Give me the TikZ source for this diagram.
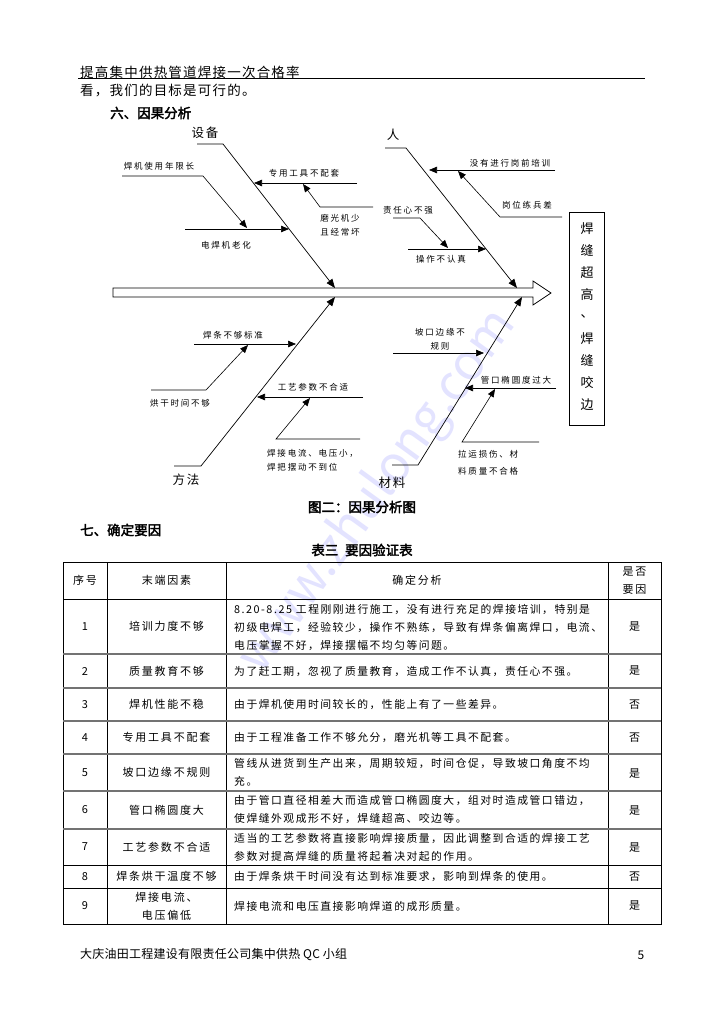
\documentclass[tikz,border=0pt]{standalone}
\usepackage{fontspec}
\setmainfont{Noto Sans CJK SC}[AutoFakeBold=2.5]
\usepackage{tikz}
\usetikzlibrary{arrows.meta,positioning,calc}

\tikzset{
  bone/.style={line width=0.7pt, -{Triangle[length=9pt,width=7pt]}},
  twig/.style={line width=0.6pt, -{Triangle[length=8pt,width=6.5pt]}},
  cause/.style={inner sep=0pt, font={\fontsize{8.5}{14}\selectfont\addfontfeature{LetterSpace=21}}},
  side/.style={inner sep=0pt, font={\fontsize{12.5}{14}\selectfont\addfontfeature{LetterSpace=14}}},
  cell/.style={inner sep=0pt, font={\fontsize{11}{18}\selectfont\addfontfeature{LetterSpace=16}}},
  para/.style={inner sep=0pt, anchor=west, align=left, font={\fontsize{10.8}{18}\selectfont\addfontfeature{LetterSpace=14}}},
  line/.style={inner sep=0pt, anchor=west, font={\fontsize{13.5}{16}\selectfont\addfontfeature{LetterSpace=9}}},
  ttl/.style={inner sep=0pt, font={\fontsize{13.5}{16}\selectfont\bfseries}},
  rowsep/.style={draw=black!55, line width=1.4pt},
}

\begin{document}
\begin{tikzpicture}[x=1pt, y=-1pt]
    \useasboundingbox (0,0) rectangle (725,1024);
    \fill[white] (0,0) rectangle (725,1024);

    % Watermark
    \node[inner sep=0pt, rotate=54, text=blue!11, font={\fontsize{50}{50}\selectfont}] (wm) at (378,492) {www.zhulong.com};

    % Page header
    \node[line] (head) at (80,72) {提高集中供热管道焊接一次合格率};
    \coordinate (hlA) at (78,78);
    \coordinate (hlB) at (645,78);
    \draw[line width=0.6pt] (hlA) -- (hlB);
    \node[line] (prev) at (80,91) {看，我们的目标是可行的。};
    \node[ttl, anchor=west] (sec6) at (110,113) {六、因果分析};

    % Spine with hollow head
    \draw[line width=0.8pt, fill=white] (113,288) -- (533,288) -- (533,281) -- (551,293) -- (533,305) -- (533,297) -- (113,297) -- cycle;

    % Effect box
    \node[draw, line width=0.8pt, minimum width=35pt, minimum height=213pt, inner sep=0pt] (effect) at (587,318.5) {};
    \foreach \c [count=\i from 0] in {焊,缝,超,高,、,焊,缝,咬,边}
        \node[inner sep=0pt, font={\fontsize{13}{14}\selectfont}] (eff\i) at (587,229+21.9*\i) {\c};

    % Equipment bone
    \coordinate (eqA) at (197,144);
    \coordinate (eqB) at (223,144);
    \coordinate (eqT) at (335,288);
    \node[side] (eqL) at (205,133) {设备};
    \draw[bone] (eqA) -- (eqB) -- (eqT);

    \coordinate (aA) at (122,176);
    \coordinate (aB) at (203,176);
    \coordinate (aT) at (247,228);
    \node[cause] (aL) at (159,166) {焊机使用年限长};
    \draw[twig] (aA) -- (aB) -- (aT);

    \coordinate (bA) at (185,229);
    \coordinate (bT) at (289,229);
    \node[cause] (bL) at (226,245) {电焊机老化};
    \draw[twig] (bA) -- (bT);

    \coordinate (cA) at (357,183);
    \coordinate (cT) at (254,183);
    \node[cause] (cL) at (304,173) {专用工具不配套};
    \draw[twig] (cA) -- (cT);

    \coordinate (dA) at (373,207);
    \coordinate (dB) at (320,207);
    \coordinate (dT) at (303,184);
    \node[cause, align=center] (dL) at (340,225) {磨光机少\\且经常坏};
    \draw[twig] (dA) -- (dB) -- (dT);

    % Man bone
    \coordinate (mnA) at (385,148);
    \coordinate (mnB) at (406,148);
    \coordinate (mnT) at (517,288);
    \node[side] (mnL) at (393,135) {人};
    \draw[bone] (mnA) -- (mnB) -- (mnT);

    \coordinate (eA) at (555,170);
    \coordinate (eT) at (429,170);
    \node[cause] (eL) at (510,163) {没有进行岗前培训};
    \draw[twig] (eA) -- (eT);

    \coordinate (fA) at (562,217);
    \coordinate (fB) at (500,217);
    \coordinate (fT) at (458,171);
    \node[cause] (fL) at (527,205) {岗位练兵差};
    \draw[twig] (fA) -- (fB) -- (fT);

    \coordinate (gA) at (393,218);
    \coordinate (gB) at (420,218);
    \coordinate (gT) at (448,248);
    \node[cause] (gL) at (408,210) {责任心不强};
    \draw[twig] (gA) -- (gB) -- (gT);

    \coordinate (hA) at (408,249);
    \coordinate (hT) at (486,249);
    \node[cause] (hL) at (441,259) {操作不认真};
    \draw[twig] (hA) -- (hT);

    % Method bone
    \coordinate (mtA) at (174,466);
    \coordinate (mtB) at (201,466);
    \coordinate (mtT) at (335,297);
    \node[side] (mtL) at (186,480) {方法};
    \draw[bone] (mtA) -- (mtB) -- (mtT);

    \coordinate (iA) at (194,344);
    \coordinate (iT) at (296,344);
    \node[cause] (iL) at (233,335) {焊条不够标准};
    \draw[twig] (iA) -- (iT);

    \coordinate (jA) at (151,390);
    \coordinate (jB) at (206,390);
    \coordinate (jT) at (248,345);
    \node[cause] (jL) at (180,403) {烘干时间不够};
    \draw[twig] (jA) -- (jB) -- (jT);

    \coordinate (kA) at (363,397);
    \coordinate (kT) at (257,397);
    \node[cause] (kL) at (313,387) {工艺参数不合适};
    \draw[twig] (kA) -- (kT);

    \coordinate (lA) at (360,439);
    \coordinate (lB) at (276,439);
    \coordinate (lT) at (310,398);
    \node[cause, anchor=west, align=left] (lL) at (267,460) {焊接电流、电压小，\\焊把摆动不到位};
    \draw[twig] (lA) -- (lB) -- (lT);

    % Material bone
    \coordinate (maA) at (392,465);
    \coordinate (maB) at (418,465);
    \coordinate (maT) at (522,297);
    \node[side] (maL) at (392,483) {材料};
    \draw[bone] (maA) -- (maB) -- (maT);

    \coordinate (nA) at (393,353);
    \coordinate (nT) at (484,353);
    \node[cause, align=center] (nL) at (440,339) {坡口边缘不\\规则};
    \draw[twig] (nA) -- (nT);

    \coordinate (oA) at (556,388);
    \coordinate (oT) at (465,388);
    \node[cause] (oL) at (516,380) {管口椭圆度过大};
    \draw[twig] (oA) -- (oT);

    \coordinate (pA) at (539,442);
    \coordinate (pB) at (462,442);
    \coordinate (pT) at (495,389);
    \node[cause, anchor=west, align=left, font={\fontsize{8.5}{17}\selectfont\addfontfeature{LetterSpace=21}}] (pL) at (458,462.5) {拉运损伤、材\\料质量不合格};
    \draw[twig] (pA) -- (pB) -- (pT);

    % Captions
    \node[ttl] (cap2) at (362,507) {图二：因果分析图};
    \node[ttl, anchor=west] (sec7) at (80,530) {七、确定要因};
    \node[ttl] (tab3) at (362,550) {表三\enspace 要因验证表};

    % Table grid
    \draw[line width=0.7pt] (63,562) rectangle (661,924);
    \foreach \x in {107,226,608}
        \draw[line width=0.7pt] (\x,562) -- (\x,924);
    \draw[line width=0.7pt] (63,599) -- (661,599);
    \foreach \y in {654,688,721,754,791,829}
        \draw[rowsep] (63,\y) -- (661,\y);
    \foreach \y in {865,888}
        \draw[line width=0.7pt] (63,\y) -- (661,\y);

    % Table header
    \node[cell] (h1) at (85,580.5) {序号};
    \node[cell] (h2) at (166.5,580.5) {末端因素};
    \node[cell] (h3) at (417,580.5) {确定分析};
    \node[cell, align=center] (h4) at (634.5,580.5) {是否\\要因};

    % Table rows
    \node[cell] (n1) at (85,626.5) {1};
    \node[cell] (f1) at (166.5,626.5) {培训力度不够};
    \node[para] (a1) at (234,628) {8.20-8.25 工程刚刚进行施工，没有进行充足的焊接培训，特别是\\初级电焊工，经验较少，操作不熟练，导致有焊条偏离焊口，电流、\\电压掌握不好，焊接摆幅不均匀等问题。};
    \node[cell] (y1) at (634.5,626.5) {是};

    \node[cell] (n2) at (85,671) {2};
    \node[cell] (f2) at (166.5,671) {质量教育不够};
    \node[para] (a2) at (234,671) {为了赶工期，忽视了质量教育，造成工作不认真，责任心不强。};
    \node[cell] (y2) at (634.5,671) {是};

    \node[cell] (n3) at (85,704.5) {3};
    \node[cell] (f3) at (166.5,704.5) {焊机性能不稳};
    \node[para] (a3) at (234,704.5) {由于焊机使用时间较长的，性能上有了一些差异。};
    \node[cell] (y3) at (634.5,704.5) {否};

    \node[cell] (n4) at (85,737.5) {4};
    \node[cell] (f4) at (166.5,737.5) {专用工具不配套};
    \node[para] (a4) at (234,737.5) {由于工程准备工作不够允分，磨光机等工具不配套。};
    \node[cell] (y4) at (634.5,737.5) {否};

    \node[cell] (n5) at (85,772.5) {5};
    \node[cell] (f5) at (166.5,772.5) {坡口边缘不规则};
    \node[para] (a5) at (234,772.5) {管线从进货到生产出来，周期较短，时间仓促，导致坡口角度不均\\充。};
    \node[cell] (y5) at (634.5,774) {是};

    \node[cell] (n6) at (85,810) {6};
    \node[cell] (f6) at (166.5,810) {管口椭圆度大};
    \node[para] (a6) at (234,810) {由于管口直径相差大而造成管口椭圆度大，组对时造成管口错边，\\使焊缝外观成形不好，焊缝超高、咬边等。};
    \node[cell] (y6) at (634.5,811) {是};

    \node[cell] (n7) at (85,847) {7};
    \node[cell] (f7) at (166.5,847) {工艺参数不合适};
    \node[para] (a7) at (234,847) {适当的工艺参数将直接影响焊接质量，因此调整到合适的焊接工艺\\参数对提高焊缝的质量将起着决对起的作用。};
    \node[cell] (y7) at (634.5,848) {是};

    \node[cell] (n8) at (85,876.5) {8};
    \node[cell] (f8) at (166.5,876.5) {焊条烘干温度不够};
    \node[para] (a8) at (234,876.5) {由于焊条烘干时间没有达到标准要求，影响到焊条的使用。};
    \node[cell] (y8) at (634.5,876.5) {否};

    \node[cell] (n9) at (85,906) {9};
    \node[cell, align=center] (f9) at (166.5,906) {焊接电流、\\电压偏低};
    \node[para] (a9) at (234,906) {焊接电流和电压直接影响焊道的成形质量。};
    \node[cell] (y9) at (634.5,906) {是};

    % Footer
    \node[line, font={\fontsize{12}{14}\selectfont\addfontfeature{LetterSpace=2}}] (foot) at (80,955) {大庆油田工程建设有限责任公司集中供热 QC 小组};
    \node[inner sep=0pt, font={\fontsize{12}{14}\selectfont}] (pg) at (641,955) {5};
\end{tikzpicture}
\end{document}
